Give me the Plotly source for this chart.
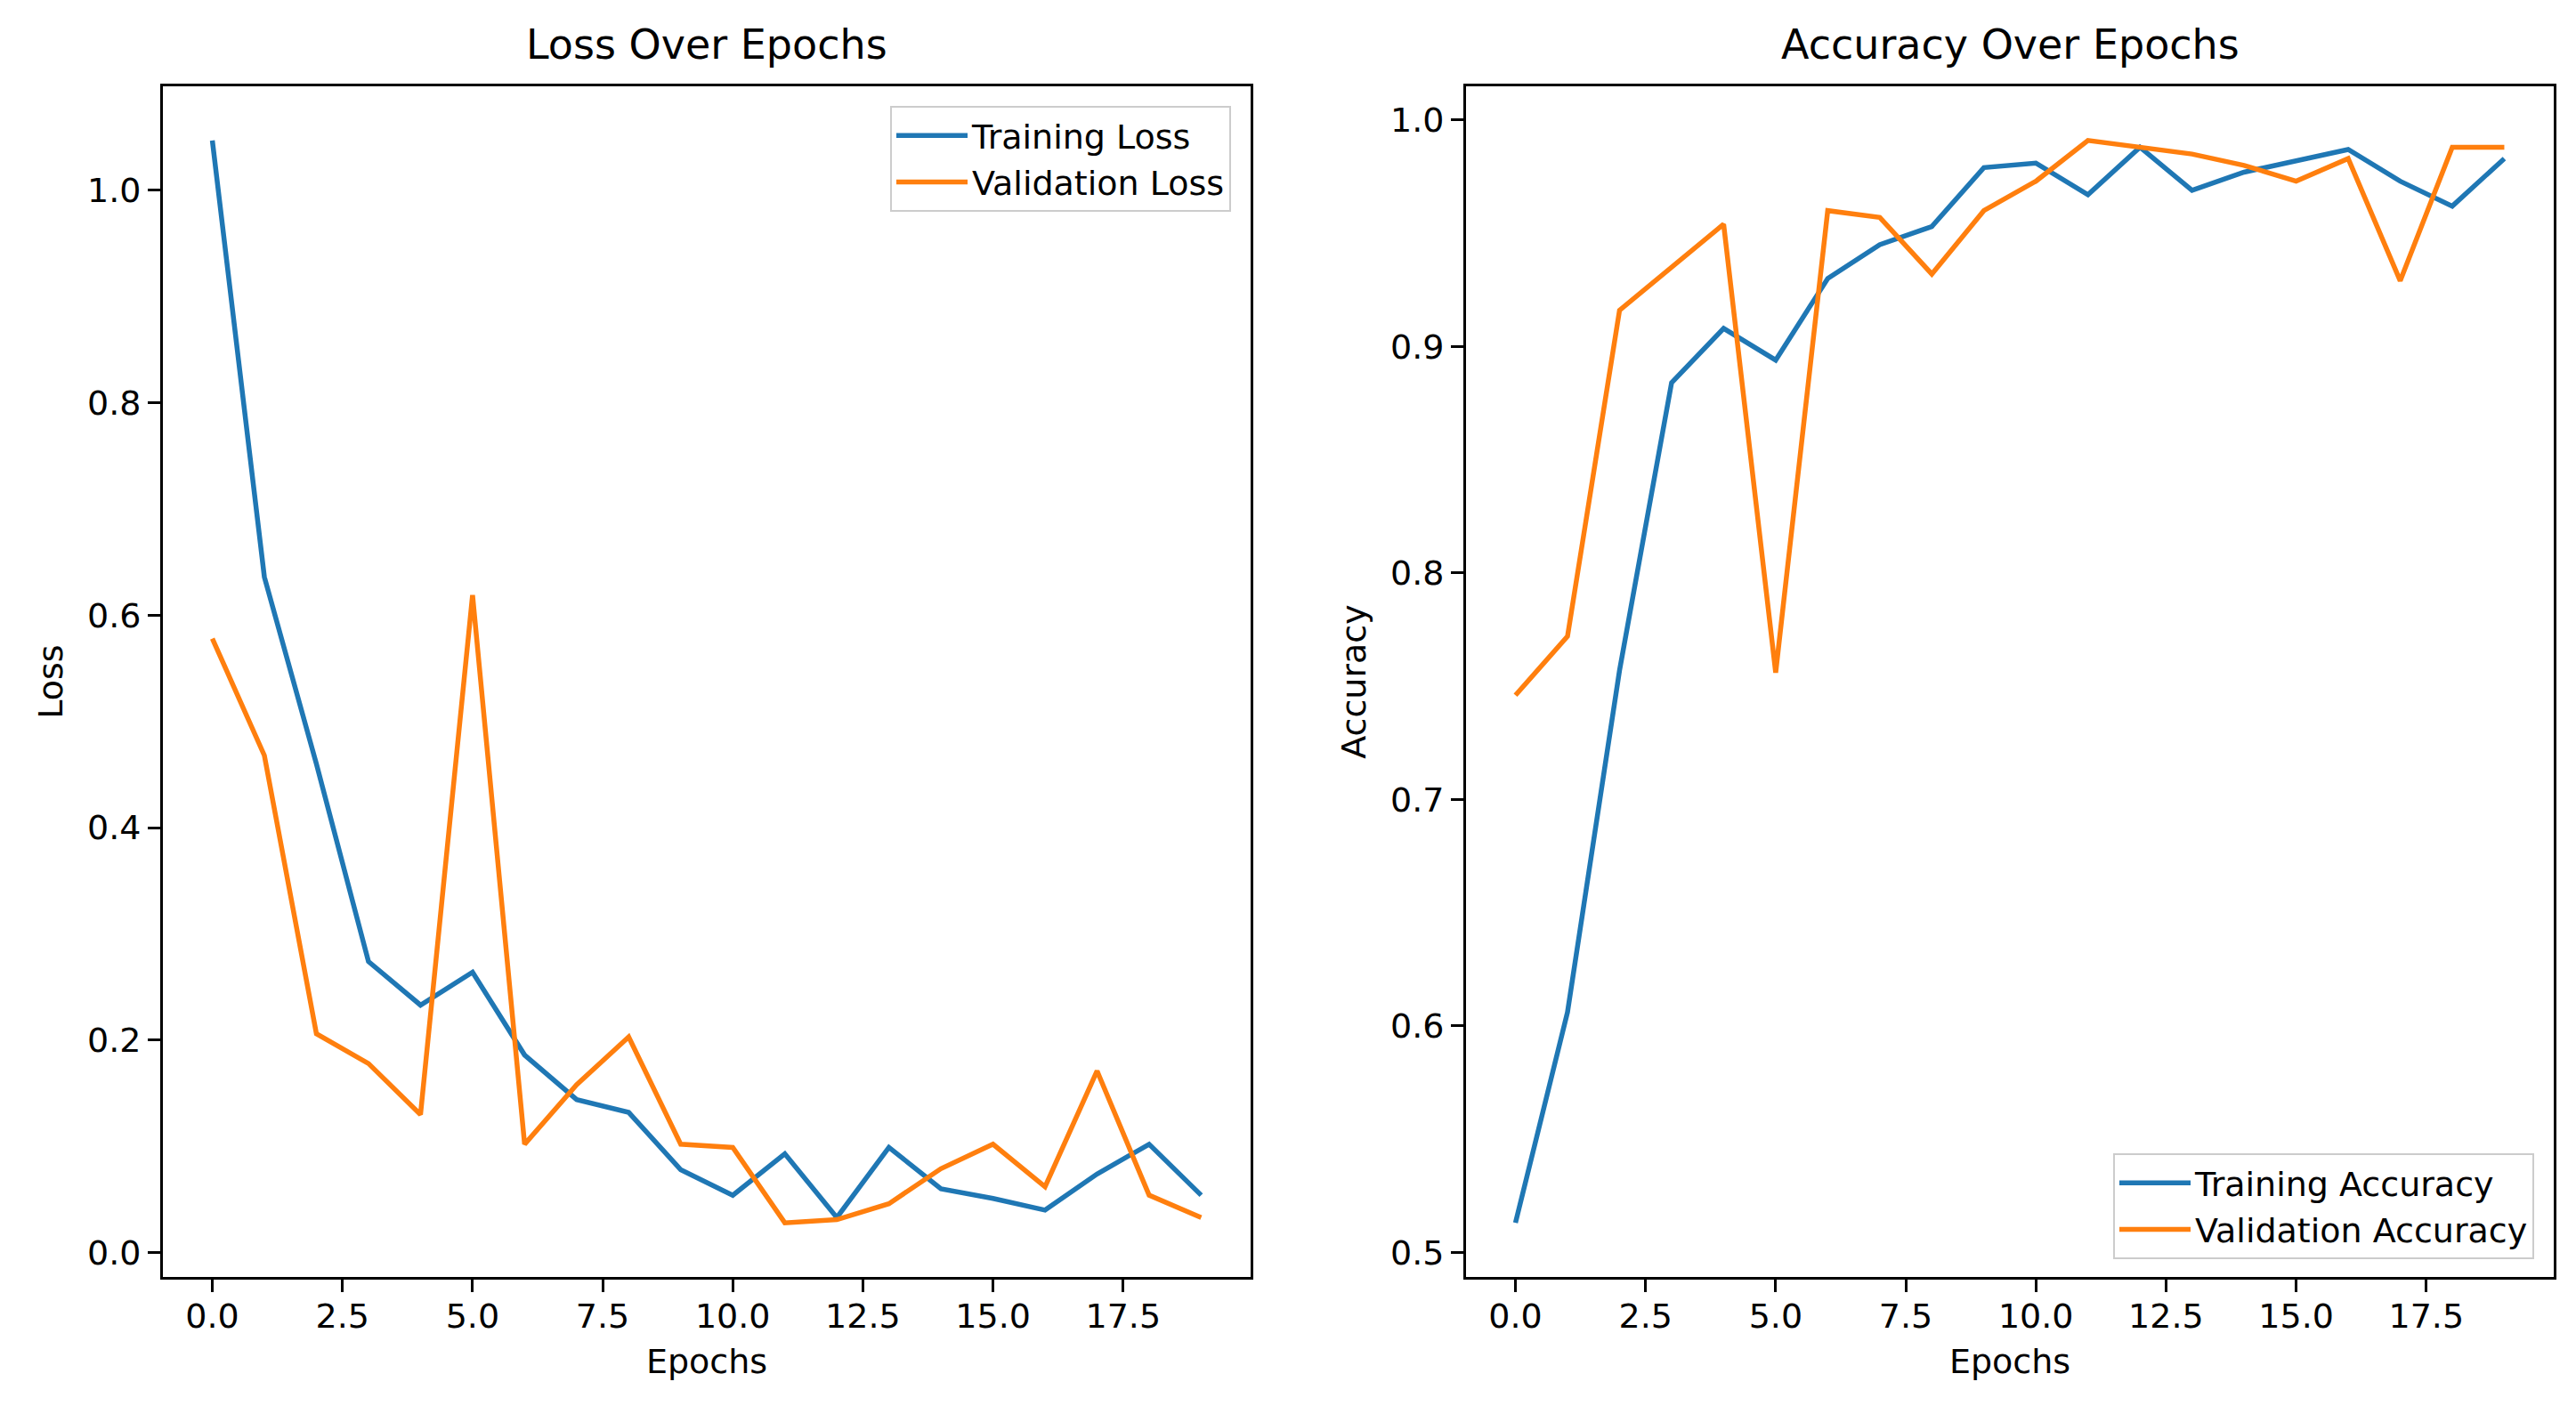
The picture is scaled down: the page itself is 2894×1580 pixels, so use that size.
import plotly.graph_objects as go

epochs = list(range(20))
train_loss = [1.047, 0.636, 0.460, 0.274, 0.233, 0.264, 0.186, 0.144, 0.132, 0.078,
              0.054, 0.093, 0.033, 0.099, 0.060, 0.051, 0.040, 0.074, 0.102, 0.054]
val_loss = [0.578, 0.468, 0.206, 0.178, 0.130, 0.619, 0.102, 0.158, 0.203, 0.102,
            0.099, 0.028, 0.031, 0.046, 0.079, 0.102, 0.062, 0.171, 0.054, 0.033]
train_acc = [0.513, 0.606, 0.757, 0.884, 0.908, 0.894, 0.930, 0.945, 0.953, 0.979,
             0.981, 0.967, 0.988, 0.969, 0.977, 0.982, 0.987, 0.973, 0.962, 0.983]
val_acc = [0.746, 0.772, 0.916, 0.935, 0.954, 0.756, 0.960, 0.957, 0.932, 0.960,
           0.973, 0.991, 0.988, 0.985, 0.980, 0.973, 0.983, 0.929, 0.988, 0.988]
x_ticks = [0.0, 2.5, 5.0, 7.5, 10.0, 12.5, 15.0, 17.5]
loss_ticks = [0.0, 0.2, 0.4, 0.6, 0.8, 1.0]
acc_ticks = [0.5, 0.6, 0.7, 0.8, 0.9, 1.0]

BLUE = "#1f77b4"
ORANGE = "#ff7f0e"
FONT = "DejaVu Sans"
W, H = 2894, 1580


def pad(vals, frac=0.05):
    lo, hi = min(vals), max(vals)
    d = (hi - lo) * frac
    return [lo - d, hi + d]


fig = go.Figure()
fig.add_trace(go.Scatter(x=epochs, y=train_loss, mode="lines", name="Training Loss",
                         line=dict(color=BLUE, width=5.5), xaxis="x", yaxis="y", legend="legend"))
fig.add_trace(go.Scatter(x=epochs, y=val_loss, mode="lines", name="Validation Loss",
                         line=dict(color=ORANGE, width=5.5), xaxis="x", yaxis="y", legend="legend"))
fig.add_trace(go.Scatter(x=epochs, y=train_acc, mode="lines", name="Training Accuracy",
                         line=dict(color=BLUE, width=5.5), xaxis="x2", yaxis="y2", legend="legend2"))
fig.add_trace(go.Scatter(x=epochs, y=val_acc, mode="lines", name="Validation Accuracy",
                         line=dict(color=ORANGE, width=5.5), xaxis="x2", yaxis="y2", legend="legend2"))

ydom = [1 - 1427 / H, 1 - 89 / H]
x1dom = [175 / W, 1397 / W]
x2dom = [1639 / W, 2861 / W]

axis_common = dict(showgrid=False, zeroline=False, showline=True, linecolor="black", linewidth=3,
                   mirror=True, ticks="outside", ticklen=14, tickwidth=3, tickcolor="black",
                   tickfont=dict(family=FONT, size=38, color="black"), automargin=False)

xr = [-0.95, 19.95]
fig.update_layout(
    width=W, height=H,
    margin=dict(l=0, r=0, t=0, b=0),
    paper_bgcolor="white", plot_bgcolor="white",
    font=dict(family=FONT, size=38, color="black"),
    showlegend=True,
    xaxis=dict(domain=x1dom, anchor="y", range=xr, tickvals=x_ticks,
               ticktext=[f"{v:.1f}" for v in x_ticks], ticklabelstandoff=-6,
               title=dict(text="Epochs", font=dict(family=FONT, size=38), standoff=17), **axis_common),
    yaxis=dict(domain=ydom, anchor="x", range=pad(train_loss + val_loss), tickvals=loss_ticks,
               ticktext=[f"{v:.1f}" for v in loss_ticks],
               title=dict(text="Loss", font=dict(family=FONT, size=38), standoff=16), **axis_common),
    xaxis2=dict(domain=x2dom, anchor="y2", range=xr, tickvals=x_ticks,
                ticktext=[f"{v:.1f}" for v in x_ticks], ticklabelstandoff=-6,
                title=dict(text="Epochs", font=dict(family=FONT, size=38), standoff=17), **axis_common),
    yaxis2=dict(domain=ydom, anchor="x2", range=pad(train_acc + val_acc), tickvals=acc_ticks,
                ticktext=[f"{v:.1f}" for v in acc_ticks],
                title=dict(text="Accuracy", font=dict(family=FONT, size=38), standoff=16), **axis_common),
    legend=dict(x=1375 / W, y=1 - 111 / H, xanchor="right", yanchor="top",
                bgcolor="rgba(255,255,255,0.8)", bordercolor="#cccccc", borderwidth=2,
                font=dict(family=FONT, size=38, color="black"), itemwidth=80),
    legend2=dict(x=2839 / W, y=1 - 1407 / H, xanchor="right", yanchor="bottom",
                 bgcolor="rgba(255,255,255,0.8)", bordercolor="#cccccc", borderwidth=2,
                 font=dict(family=FONT, size=38, color="black"), itemwidth=80),
    annotations=[
        dict(text="Loss Over Epochs", x=(x1dom[0] + x1dom[1]) / 2, y=ydom[1], xref="paper", yref="paper",
             xanchor="center", yanchor="bottom", yshift=18, showarrow=False,
             font=dict(family=FONT, size=46, color="black")),
        dict(text="Accuracy Over Epochs", x=(x2dom[0] + x2dom[1]) / 2, y=ydom[1], xref="paper", yref="paper",
             xanchor="center", yanchor="bottom", yshift=18, showarrow=False,
             font=dict(family=FONT, size=46, color="black")),
    ],
)

fig.write_html("out.html")
